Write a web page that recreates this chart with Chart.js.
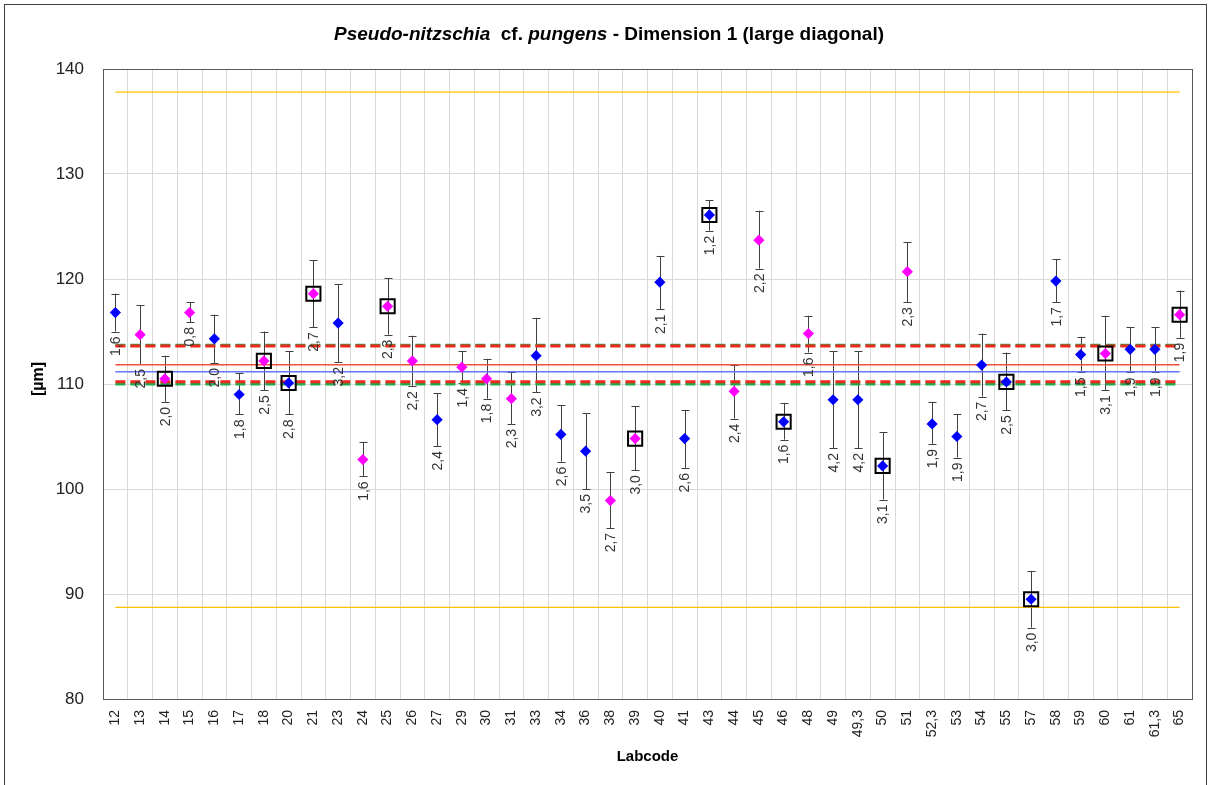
<!DOCTYPE html>
<html><head><meta charset="utf-8">
<script src="https://cdn.jsdelivr.net/npm/chart.js@4.4.1/dist/chart.umd.min.js"></script>
<style>html,body{margin:0;padding:0;background:#fff}#wrap{width:1208px;height:785px;position:relative}</style>
</head><body><div id="wrap"><canvas id="c"></canvas></div>
<script>
// ---- data ----
const labcodes = ['12','13','14','15','16','17','18','20','21','23','24','25','26','27','29','30','31','33','34','36','38','39','40','41','43','44','45','46','48','49','49,3','50','51','52,3','53','54','55','57','58','59','60','61','61,3','65'];
const means = [116.8,114.7,110.5,116.8,114.3,109.0,112.2,110.1,118.6,115.8,102.8,117.4,112.2,106.6,111.6,110.5,108.6,112.7,105.2,103.6,98.9,104.8,119.7,104.8,126.1,109.3,123.7,106.4,114.8,108.5,108.5,102.2,120.7,106.2,105.0,111.8,110.2,89.5,119.8,112.8,112.9,113.3,113.3,116.6];
const upper = [118.6,117.5,112.7,117.8,116.6,111.0,115.0,113.1,121.8,119.5,104.5,120.1,114.6,109.1,113.1,112.4,111.1,116.3,108.0,107.2,101.6,107.9,122.2,107.5,127.5,111.8,126.5,108.2,116.5,113.1,113.1,105.4,123.5,108.3,107.1,114.8,113.0,92.2,121.9,114.5,116.5,115.4,115.4,118.9];
const lower = [115.0,111.9,108.3,115.9,112.0,107.1,109.4,107.1,115.4,112.1,101.2,114.7,109.8,104.1,110.1,108.6,106.2,109.2,102.6,100.0,96.3,101.8,117.1,102.0,124.6,106.7,121.0,104.7,113.0,103.9,103.9,99.0,117.8,104.3,103.0,108.8,107.5,86.8,117.8,111.1,109.4,111.1,111.1,114.4];
const sdLabels = ['1,6','2,5','2,0','0,8','2,0','1,8','2,5','2,8','2,7','3,2','1,6','2,3','2,2','2,4','1,4','1,8','2,3','3,2','2,6','3,5','2,7','3,0','2,1','2,6','1,2','2,4','2,2','1,6','1,6','4,2','4,2','3,1','2,3','1,9','1,9','2,7','2,5','3,0','1,7','1,5','3,1','1,9','1,9','1,9'];
const groups = ['b','m','m','m','b','b','m','b','m','b','m','m','m','b','m','m','m','b','b','b','m','m','b','b','b','m','m','b','m','b','b','b','m','b','b','b','b','b','b','b','m','b','b','m'];
const flagged = ['14','18','20','21','25','39','43','46','50','55','57','60','65'];
const yTicks = [80, 90, 100, 110, 120, 130, 140];
const orangeLimits = [137.8, 88.72];
const greenBand = [113.70, 110.00];
const redBand = [113.62, 110.22];
const redLine = [111.84];
const blueLine = [111.17];

const groupColor = {b: '#0000ff', m: '#ff00ff'};
const first = labcodes[0], last = labcodes[labcodes.length - 1];
function hline(v, color, width, dash, order) {
  return {type: 'line', data: [{x: first, y: v}, {x: last, y: v}], borderColor: color, borderWidth: width,
    borderDash: dash || [], pointRadius: 0, fill: false, order: order, showLine: true};
}
const datasets = [
  {type: 'line', data: labcodes.map((l, i) => flagged.includes(l) ? means[i] : null),
   showLine: false, pointStyle: 'rect', pointRadius: 10, pointBorderColor: '#000', pointBorderWidth: 2,
   pointBackgroundColor: 'rgba(0,0,0,0)', order: 0},
  {type: 'line', data: means, showLine: false, pointStyle: 'rectRot', pointRadius: 5.6, pointBorderWidth: 0,
   pointBackgroundColor: groups.map(g => groupColor[g]), pointBorderColor: groups.map(g => groupColor[g]), order: 1},
];
orangeLimits.forEach(v => datasets.push(hline(v, '#ffc000', 1.3, null, 5)));
greenBand.forEach(v => datasets.push(hline(v, '#1faa50', 3, [10, 5], 4)));
redBand.forEach(v => datasets.push(hline(v, '#ee2a1c', 3, [10, 5], 3)));
redLine.forEach(v => datasets.push(hline(v, '#f0503a', 1.5, null, 2)));
blueLine.forEach(v => datasets.push(hline(v, '#6673ff', 1.5, null, 2)));

const FONT = "'Liberation Sans', Arial, sans-serif";

const errorBars = {
  id: 'errorBars',
  beforeDatasetsDraw(chart) {
    const ctx = chart.ctx, xs = chart.scales.x, ys = chart.scales.y;
    ctx.save();
    ctx.strokeStyle = '#404040'; ctx.lineWidth = 1;
    labcodes.forEach((l, i) => {
      const x = Math.round(xs.getPixelForValue(i)) + 0.5;
      const yt = ys.getPixelForValue(upper[i]), yb = ys.getPixelForValue(lower[i]);
      ctx.beginPath();
      ctx.moveTo(x, yt); ctx.lineTo(x, yb);
      ctx.moveTo(x - 4, Math.round(yt) + 0.5); ctx.lineTo(x + 4, Math.round(yt) + 0.5);
      ctx.moveTo(x - 4, Math.round(yb) + 0.5); ctx.lineTo(x + 4, Math.round(yb) + 0.5);
      ctx.stroke();
    });
    ctx.restore();
  },
  afterDatasetsDraw(chart) {
    const ctx = chart.ctx, xs = chart.scales.x, ys = chart.scales.y;
    ctx.save();
    ctx.fillStyle = '#333';
    ctx.font = '14px ' + FONT;
    ctx.textAlign = 'right'; ctx.textBaseline = 'middle';
    labcodes.forEach((l, i) => {
      const x = xs.getPixelForValue(i) + 1;
      const yb = ys.getPixelForValue(lower[i]);
      ctx.save();
      ctx.translate(x, yb + 5);
      ctx.rotate(-Math.PI / 2);
      ctx.fillText(sdLabels[i], 0, 0);
      ctx.restore();
    });
    ctx.restore();
  },
  afterDraw(chart) {
    const ctx = chart.ctx, a = chart.chartArea;
    ctx.save();
    ctx.strokeStyle = '#595959'; ctx.lineWidth = 1;
    ctx.strokeRect(Math.round(a.left) + 0.5, Math.round(a.top) + 0.5, Math.round(a.right - a.left), Math.round(a.bottom - a.top));
    ctx.strokeStyle = '#404040';
    ctx.strokeRect(4.5, 4.5, 1202, 800);
    const runs = [
      ['Pseudo-nitzschia', 'italic bold'], ['  cf. ', 'bold'], ['pungens', 'italic bold'], [' - Dimension 1 (large diagonal)', 'bold']
    ];
    let size = 18;
    const measure = s => runs.reduce((w, r) => { ctx.font = r[1] + ' ' + s + 'px ' + FONT; return w + ctx.measureText(r[0]).width; }, 0);
    let w = measure(size);
    size = Math.max(14, Math.min(19, size * 564 / w));
    w = measure(size);
    let x = 609 - w / 2;
    ctx.fillStyle = '#000'; ctx.textBaseline = 'middle'; ctx.textAlign = 'left';
    runs.forEach(r => { ctx.font = r[1] + ' ' + size + 'px ' + FONT; ctx.fillText(r[0], x, 35); x += ctx.measureText(r[0]).width; });
    ctx.font = 'bold 15px ' + FONT; ctx.textAlign = 'center';
    ctx.fillText('Labcode', (a.left + a.right) / 2, 757);
    ctx.save(); ctx.translate(39, 379); ctx.rotate(-Math.PI / 2);
    ctx.font = 'bold 16px ' + FONT; ctx.fillText('[µm]', 0, 0);
    ctx.restore();
    ctx.restore();
  }
};

new Chart(document.getElementById('c'), {
  type: 'line',
  data: {labels: labcodes, datasets: datasets},
  options: {
    responsive: true, maintainAspectRatio: false, animation: false, events: [],
    layout: {padding: {top: 69, right: 16, bottom: 0, left: 0}},
    plugins: {legend: {display: false}, tooltip: {enabled: false}, title: {display: false}},
    scales: {
      x: {type: 'category', offset: true,
          grid: {offset: true, color: '#d9d9d9', drawTicks: false},
          border: {display: false},
          ticks: {autoSkip: false, minRotation: 90, maxRotation: 90, padding: 11, color: '#222', font: {size: 14, family: FONT}},
          afterFit(s) { s.height = 86; }},
      y: {min: yTicks[0], max: yTicks[yTicks.length - 1],
          afterBuildTicks(s) { s.ticks = yTicks.map(v => ({value: v})); },
          grid: {color: '#d9d9d9', drawTicks: false},
          border: {display: false},
          ticks: {padding: 19, color: '#222', font: {size: 17, family: FONT}},
          afterFit(s) { s.width = 103; }}
    }
  },
  plugins: [errorBars]
});
</script></body></html>
